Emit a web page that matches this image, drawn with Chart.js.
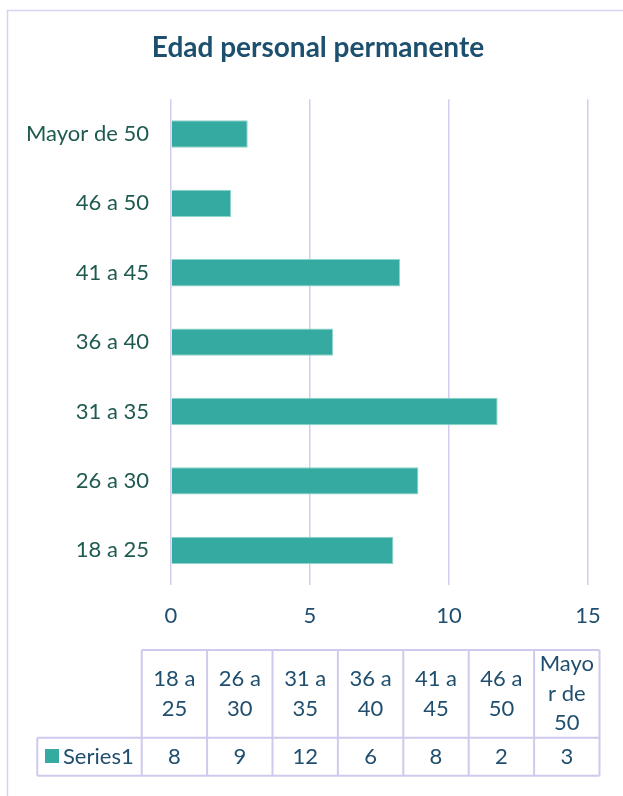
<!DOCTYPE html>
<html>
<head>
<meta charset="utf-8">
<script src="https://cdn.jsdelivr.net/npm/chart.js@4"></script>
<style>
  body { margin: 0; background: #fff; }
  #wrap { width: 623px; height: 796px; }
</style>
</head>
<body>
<div id="wrap"><canvas id="edadChart" width="623" height="796"></canvas></div>
<script>
// categories, bottom to top as in the picture
var ageGroups = ["18 a 25", "26 a 30", "31 a 35", "36 a 40", "41 a 45", "46 a 50", "Mayor de 50"];
var series1 = [8.0, 8.9, 11.75, 5.83, 8.24, 2.16, 2.76];
// header texts of the data table, wrapped as they appear
var tableHeaders = [["18 a", "25"], ["26 a", "30"], ["31 a", "35"], ["36 a", "40"], ["41 a", "45"], ["46 a", "50"], ["Mayo", "r de", "50"]];
var xTicks = [0, 5, 10, 15];
var chartTitle = "Edad personal permanente";

var barColor = "#35aaa0";
var gridColor = "#d2ccee";
var blueText = "#1f4e6e";
var greenText = "#1e5a50";
var fontName = "Lato, 'Open Sans', sans-serif";

// title, data table under the chart and outer frame
var tablePlugin = {
  id: "dataTable",
  afterDraw: function (chart) {
    var ctx = chart.ctx;
    var left = 141.7, colW = 65.4, keyLeft = 37.3;
    var top = 650, mid = 737.7, bottom = 775.7;
    var right = left + colW * ageGroups.length;
    ctx.save();

    // frame around the whole chart
    ctx.strokeStyle = "#d8d2f0";
    ctx.lineWidth = 1.5;
    ctx.beginPath();
    ctx.moveTo(7.5, 900);
    ctx.lineTo(7.5, 10.5);
    ctx.lineTo(700, 10.5);
    ctx.stroke();

    // title
    ctx.font = "bold 28px " + fontName;
    ctx.fillStyle = "#1d4f6f";
    ctx.textAlign = "center";
    ctx.textBaseline = "middle";
    ctx.fillText(chartTitle, 318, 48);

    // grid of the table
    ctx.strokeStyle = "#d0c9ee";
    ctx.lineWidth = 2;
    ctx.beginPath();
    ctx.moveTo(left, top); ctx.lineTo(right, top);
    ctx.moveTo(keyLeft, mid); ctx.lineTo(right, mid);
    ctx.moveTo(keyLeft, bottom); ctx.lineTo(right, bottom);
    ctx.moveTo(keyLeft, mid); ctx.lineTo(keyLeft, bottom);
    for (var i = 0; i <= ageGroups.length; i++) {
      var x = left + colW * i;
      ctx.moveTo(x, top); ctx.lineTo(x, bottom);
    }
    ctx.stroke();

    ctx.font = "22px " + fontName;
    ctx.fillStyle = blueText;
    var lh = 29.5;
    var hc = (top + mid) / 2;
    tableHeaders.forEach(function (lines, i) {
      var cx = left + colW * (i + 0.5);
      var y0 = hc - (lines.length - 1) * lh / 2;
      lines.forEach(function (t, j) { ctx.fillText(t, cx, y0 + j * lh); });
      ctx.fillText(String(Math.round(series1[i])), cx, (mid + bottom) / 2);
    });

    // legend key
    ctx.fillStyle = barColor;
    ctx.fillRect(45, 749, 14, 14);
    ctx.fillStyle = blueText;
    ctx.textAlign = "left";
    ctx.fillText(chart.data.datasets[0].label, 63, (mid + bottom) / 2);
    ctx.restore();
  }
};

new Chart("edadChart", {
  type: "bar",
  data: {
    labels: ageGroups,
    datasets: [{
      label: "Series1",
      data: series1,
      backgroundColor: barColor,
      borderColor: "#8fd4cc",
      borderWidth: 1,
      categoryPercentage: 1,
      barPercentage: 0.394
    }]
  },
  options: {
    indexAxis: "y",
    responsive: false,
    animation: false,
    layout: { padding: { left: 0, right: 35, top: 99.3, bottom: 166 } },
    plugins: {
      legend: { display: false },
      tooltip: { enabled: false },
      title: { display: false }
    },
    scales: {
      x: {
        min: 0,
        max: 15,
        afterBuildTicks: function (s) { s.ticks = xTicks.map(function (v) { return { value: v }; }); },
        afterFit: function (s) { s.height = 45; },
        grid: { color: gridColor, lineWidth: 1.5, drawTicks: false },
        border: { display: false },
        ticks: { color: blueText, padding: 18, font: { family: fontName, size: 22 } }
      },
      y: {
        reverse: true,
        afterFit: function (s) { s.width = 171; },
        grid: { display: false, drawTicks: false },
        border: { display: false },
        ticks: { color: greenText, padding: 22, font: { family: fontName, size: 22 } }
      }
    }
  },
  plugins: [tablePlugin]
});
</script>
</body>
</html>
